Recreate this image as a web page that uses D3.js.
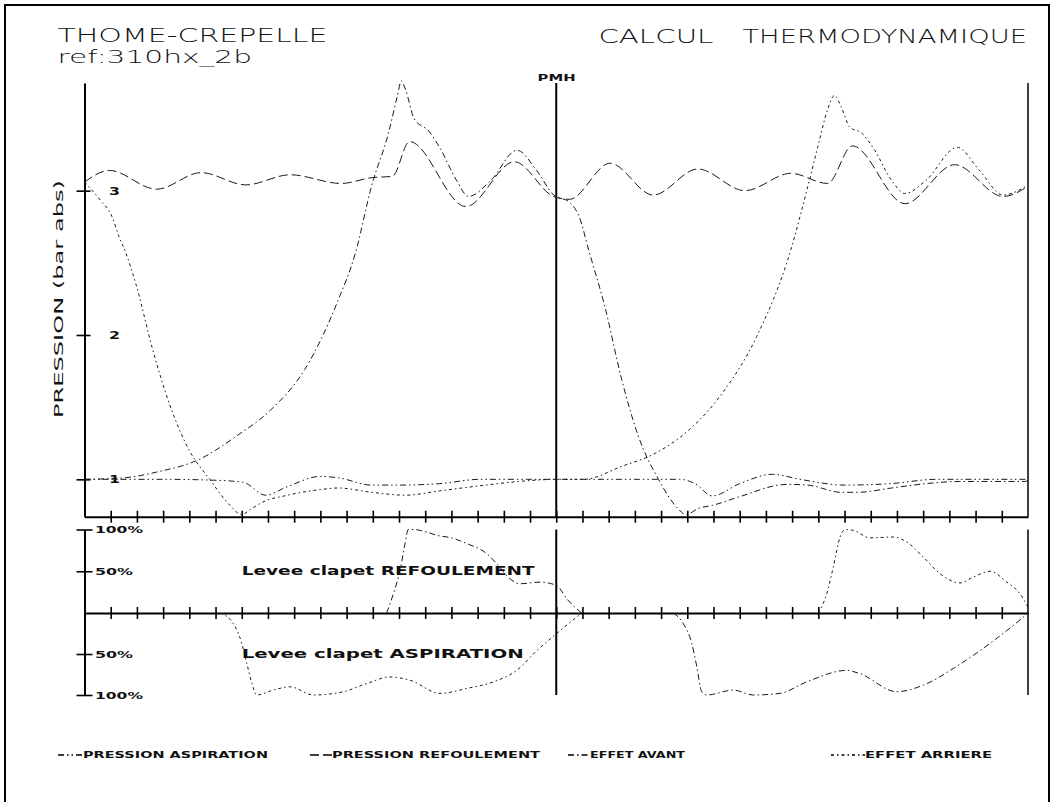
<!DOCTYPE html>
<html><head><meta charset="utf-8">
<script src="https://cdn.jsdelivr.net/npm/d3@7"></script>
<style>
html,body{margin:0;padding:0;background:#fff;}
svg{display:block;}
.thin{font-family:"DejaVu Sans",sans-serif;font-weight:200;fill:#111;}
.reg{font-family:"DejaVu Sans",sans-serif;font-weight:normal;fill:#111;}
.bold{font-family:"DejaVu Sans",sans-serif;font-weight:bold;fill:#111;}
</style></head><body>
<svg id="chart" width="1051" height="802"></svg>
<script>
// ---------------- DATA (crank angle in degrees, pressure in bar abs, valve lift in %) ----------------
const angleDomain = [0, 720];
const pmhAngle = 360;
const angleTickStep = 20;
const pressureTicks = [1, 2, 3];
const pressureTickLabels = ["1", "2", "3"];
const valveTicks = [100, 50, -50, -100];
const valveTickLabels = ["100%", "50%", "50%", "100%"];

const pressionRefoulement = [[0,3.06],[19,3.14],[55,3.01],[89,3.125],[123,3.04],[157,3.11],[196,3.05],[219,3.09],[235,3.10],[248,3.34],[291,2.89],[328,3.20],[358,2.96],[370,2.94],[401,3.19],[434,2.97],[468,3.15],[504,3.00],[539,3.12],[567,3.05],[586,3.31],[626,2.91],[664,3.18],[701,2.96],[720,3.03]];

const pressionAspiration = [[0,1.0],[60,1.0],[95,0.995],[121,0.98],[138,0.89],[155,0.95],[180,1.02],[194,1.01],[219,0.96],[240,0.96],[271,0.97],[302,1.0],[338,1.0],[360,1.0],[420,1.0],[454,1.0],[466,0.97],[479,0.885],[500,0.97],[525,1.035],[546,1.0],[580,0.96],[615,0.97],[650,1.0],[720,1.0]];

const effetArriere = [[0,3.06],[4,3.02],[12,2.935],[21,2.82],[26,2.69],[31.5,2.57],[39,2.36],[52,1.90],[64.5,1.53],[80,1.20],[95.5,1.00],[111,0.82],[120,0.755],[126.5,0.79],[135.5,0.84],[155,0.89],[181,0.93],[193.5,0.94],[219,0.91],[245,0.89],[271,0.92],[297,0.95],[338,0.99],[360,1.0],[381,1.0],[410,1.09],[435.5,1.18],[461,1.34],[487,1.60],[513,1.99],[539,2.59],[552,3.03],[559.5,3.30],[567,3.56],[572.3,3.66],[577.5,3.58],[584,3.44],[593,3.40],[603,3.28],[616,3.07],[626,2.98],[642,3.07],[666,3.30],[683,3.14],[701,2.97],[720,3.04]];

const effetAvant = [[0,1.0],[30,1.01],[55,1.05],[88,1.14],[116,1.30],[142,1.48],[168,1.76],[193.5,2.24],[206.5,2.56],[219,3.03],[232,3.40],[238.6,3.65],[241.8,3.76],[245,3.70],[251.5,3.50],[263,3.41],[271,3.30],[284,3.07],[293,2.96],[310,3.07],[330,3.28],[345,3.14],[358,2.97],[370,2.92],[377.5,2.82],[385,2.58],[397,2.20],[410,1.69],[422.6,1.30],[438,1.00],[453.6,0.79],[458.7,0.755],[469,0.80],[479.4,0.82],[500,0.88],[536,0.965],[552,0.96],[577.5,0.91],[590,0.91],[616,0.94],[642,0.97],[668,0.985],[717,0.985],[720,0.99]];

const leveeRefoulementAvant = [[230.6,0],[235.7,23],[240.8,51],[244.6,83],[247.1,100],[250.9,100],[261,97],[269,93],[280,90],[292,83],[307,71],[314.6,59],[324.7,41],[332.3,35],[347.6,37],[360.3,33],[368,17],[379.4,0]];
const leveeRefoulementArriere = [[0,6],[2,0]];
const leveeRefoulementArriere2 = [[560,0],[566.4,23],[571.4,55],[576.6,91],[580.4,100],[586.7,99],[599.4,90],[617.2,91],[627.5,85],[640.1,67],[652.9,47],[668.1,36],[678.3,43],[691,50],[703.8,37],[713.9,23],[720,7]];
const leveeAspirationArriere = [[103.4,0],[113.6,-13],[120,-37],[123.8,-61],[127.6,-85],[131.4,-100],[144.1,-94],[156.8,-90],[174.6,-100],[197.5,-96],[215.4,-86],[233.1,-78],[248.4,-82],[271.3,-98],[291.7,-92],[312,-84],[329.8,-70],[345.1,-46],[360.3,-25],[379.4,0]];
const leveeAspirationAvant = [[449.3,0],[457,-13],[463.4,-37],[467.2,-65],[471,-96],[474.8,-100],[495.1,-94],[510.4,-100],[530.8,-98],[551.1,-84],[581.7,-70],[591.8,-74],[619.8,-96],[640.1,-88],[665.6,-65],[691,-37],[716.4,-5],[720,0]];

const legendLabels = ["PRESSION ASPIRATION", "PRESSION REFOULEMENT", "EFFET AVANT", "EFFET ARRIERE"];

// ---------------- LAYOUT / STYLE ----------------
const dashAsp = "6,3,1.5,3,1.5,3";
const dashRef = "9,4";
const dashAv = "6,3,1.5,3";
const dashAr = "3,3,1.5,3";
const curveColor = "#1a1a1a";

const svg = d3.select("#chart");
const x = d3.scaleLinear().domain(angleDomain).range([84.5, 1028]);
const yP = d3.scaleLinear().domain([0.741, 3.746]).range([516.7, 83]);
const yV = d3.scaleLinear().domain([-100, 0, 100]).range([695, 613, 529.5]);

// frame
svg.append("rect").attr("x",5).attr("y",5).attr("width",1044).attr("height",900)
  .attr("fill","none").attr("stroke","#000").attr("stroke-width",2);

// titles
function txt(cls, t, px, py, len, size){
  const e = svg.append("text").attr("class",cls).attr("x",px).attr("y",py)
    .attr("font-size",size).text(t);
  if (len) e.attr("textLength",len).attr("lengthAdjust","spacingAndGlyphs");
  return e;
}
txt("thin","THOME-CREPELLE",57.5,42,270,19.5);
txt("thin","ref:310hx_2b",57.5,63,194.5,17.5);
txt("thin","CALCUL",598.4,43,115,19.5);
txt("thin","THERMODYNAMIQUE",742.4,43,284.6,19.5);
txt("bold","PMH",537.6,80.5,38,8.5);

// y label
svg.append("text").attr("class","reg").attr("font-size",11.5)
  .attr("transform","translate(63,299) rotate(-90)")
  .attr("text-anchor","middle")
  .attr("textLength",238).attr("lengthAdjust","spacingAndGlyphs")
  .text("PRESSION (bar abs)");

// bottom axes (pressure and valve zero line)
const tickVals = d3.range(angleDomain[0] + angleTickStep, angleDomain[1], angleTickStep);
const gxP = svg.append("g").attr("transform",`translate(0,${yP(0.741)})`)
  .call(d3.axisBottom(x).tickValues(tickVals).tickSizeOuter(0).tickSizeInner(6).tickFormat(""));
const gxV = svg.append("g").attr("transform",`translate(0,${yV(0)})`)
  .call(d3.axisBottom(x).tickValues(tickVals).tickSizeOuter(0).tickSizeInner(6).tickFormat(""));
[gxP,gxV].forEach(g=>{
  g.select(".domain").attr("stroke","#000").attr("stroke-width",2);
  g.selectAll(".tick line").attr("y1",-6).attr("y2",6).attr("stroke","#000").attr("stroke-width",1.6);
});

// pressure left axis
const gyP = svg.append("g").attr("transform",`translate(${x(0)},0)`)
  .call(d3.axisLeft(yP).tickValues(pressureTicks).tickSizeOuter(0).tickSizeInner(8)
    .tickFormat((d,i)=>pressureTickLabels[i]));
gyP.select(".domain").attr("stroke","#000").attr("stroke-width",2);
gyP.selectAll(".tick line").attr("x1",-8).attr("x2",6).attr("stroke","#000").attr("stroke-width",1.6);
gyP.selectAll(".tick text").attr("class","bold").attr("x",24.5).attr("text-anchor","start")
  .attr("dy","0.35em").attr("font-size",10)
  .attr("textLength",11).attr("lengthAdjust","spacingAndGlyphs");

// valve left axis
const gyV = svg.append("g").attr("transform",`translate(${x(0)},0)`)
  .call(d3.axisLeft(yV).tickValues(valveTicks).tickSizeOuter(0).tickSizeInner(8)
    .tickFormat((d,i)=>valveTickLabels[i]));
gyV.select(".domain").attr("stroke","#000").attr("stroke-width",2);
gyV.selectAll(".tick line").attr("x1",-8).attr("x2",8).attr("stroke","#000").attr("stroke-width",1.6);
gyV.selectAll(".tick text").attr("class","bold").attr("x",10.5).attr("text-anchor","start")
  .attr("dy","0.35em").attr("font-size",9.5)
  .attr("textLength",(d,i)=>valveTickLabels[i].length===4?48:38).attr("lengthAdjust","spacingAndGlyphs");
[gyP,gyV].forEach(g=>g.attr("font-family",null));

// PMH and right lines
[[pmhAngle,2],[angleDomain[1],1.5]].forEach(([a,w])=>{
  svg.append("line").attr("x1",x(a)).attr("x2",x(a)).attr("y1",yP(3.746)).attr("y2",yP(0.741))
    .attr("stroke","#000").attr("stroke-width",w);
  svg.append("line").attr("x1",x(a)).attr("x2",x(a)).attr("y1",yV(100)).attr("y2",yV(-100))
    .attr("stroke","#000").attr("stroke-width",w);
});

// curves
const lineP = d3.line().x(d=>x(d[0])).y(d=>yP(d[1])).curve(d3.curveMonotoneX);
const lineV = d3.line().x(d=>x(d[0])).y(d=>yV(d[1])).curve(d3.curveMonotoneX);
function draw(gen, data, dash){
  svg.append("path").attr("d",gen(data)).attr("fill","none").attr("stroke",curveColor)
    .attr("stroke-width",1).attr("stroke-dasharray",dash);
}
draw(lineP, pressionAspiration, dashAsp);
draw(lineP, pressionRefoulement, dashRef);
draw(lineP, effetAvant, dashAv);
draw(lineP, effetArriere, dashAr);
draw(lineV, leveeRefoulementAvant, dashAv);
draw(lineV, leveeRefoulementArriere, dashAr);
draw(lineV, leveeRefoulementArriere2, dashAr);
draw(lineV, leveeAspirationArriere, dashAr);
draw(lineV, leveeAspirationAvant, dashAv);

// panel labels
txt("bold","Levee clapet REFOULEMENT",241.7,yV(50),293,11.4).attr("dy","0.35em");
txt("bold","Levee clapet ASPIRATION",241.7,yV(-50),282,11.4).attr("dy","0.35em");

// legend
const legendLayout = [
  {sx:58, sw:24, tx:83, tw:185, dash:dashAsp},
  {sx:310, sw:22, tx:332, tw:208, dash:dashRef},
  {sx:568, sw:22, tx:590, tw:95, dash:dashAv},
  {sx:831, sw:34, tx:865, tw:127, dash:dashAr}
];
const legY = 755;
legendLabels.forEach((lab,i)=>{
  const L = legendLayout[i];
  svg.append("line").attr("x1",L.sx).attr("x2",L.sx+L.sw).attr("y1",legY).attr("y2",legY)
    .attr("stroke","#000").attr("stroke-width",1.6).attr("stroke-dasharray",L.dash);
  txt("bold",lab,L.tx,legY,L.tw,9.2).attr("dy","0.35em");
});
</script>
</body></html>
